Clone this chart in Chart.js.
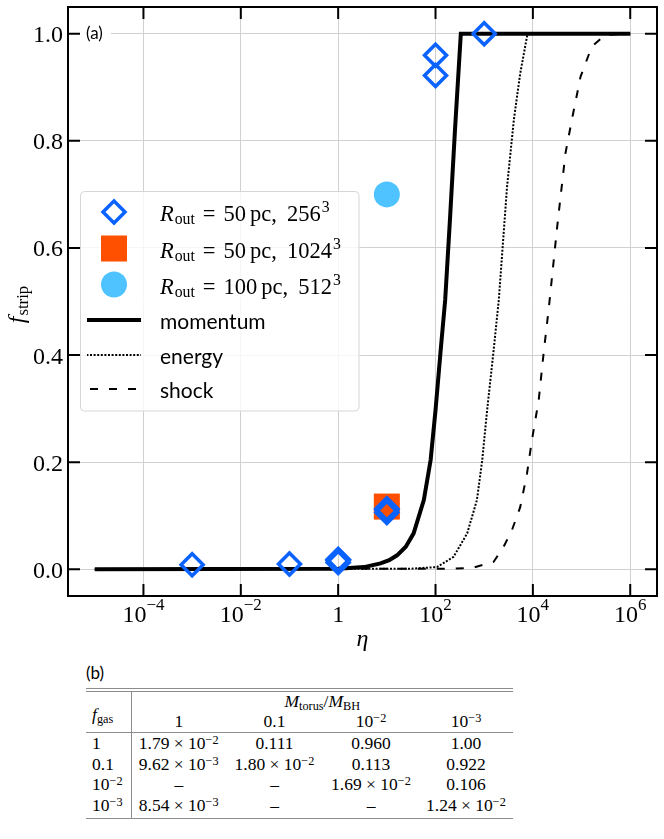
<!DOCTYPE html>
<html>
<head>
<meta charset="utf-8">
<script src="https://cdn.jsdelivr.net/npm/chart.js@4.4.0/dist/chart.umd.min.js"></script>
<style>
    html, body { margin: 0; padding: 0; background: #fff; }
    body { width: 664px; height: 839px; position: relative; overflow: hidden; }
    #chartBox { position: absolute; left: 0; top: 0; width: 664px; height: 655px; }
    #panelB { position: absolute; left: 86px; top: 662px; font-family: Lato, sans-serif; font-size: 17px; line-height: 22px; }
    #stripTable { position: absolute; left: 86px; top: 688px; width: 427px; table-layout: fixed;
        border-collapse: collapse; font-family: "Liberation Serif", serif; font-size: 17.5px; color: #000; }
    #stripTable td { padding: 0; text-align: center; vertical-align: top; white-space: nowrap; line-height: 20.5px; height: 20.5px; }
    #stripTable tr.top td { border-top: 4px double #8c8c8c; height: 19px; line-height: 19px; }
    #stripTable tr.cols td { height: 21px; line-height: 21px; border-bottom: 1px solid #8c8c8c; }
    #stripTable td.rowlab { text-align: left; padding-left: 6px; border-right: 1px solid #8c8c8c; }
    #stripTable td.fgas { vertical-align: middle; padding-top: 5px; border-bottom: 1px solid #8c8c8c; }
    #stripTable tr.last td { border-bottom: 1px solid #8c8c8c; height: 23px; }
    sup, sub { font-size: 0.7em; line-height: 0; }
    sup { vertical-align: 0.45em; }
    sub { vertical-align: -0.25em; }
</style>
</head>
<body>
<div id="chartBox"><canvas id="stripChart"></canvas></div>
<div id="panelB">(b)</div>
<table id="stripTable"></table>

<script>
// panel (a): model curves (eta, f_strip)
const momentumEta = [1e-5, 1, 3.39, 7.41, 11.2, 16.2, 24.5, 35.5, 57.5, 79.4, 100, 126, 158, 200, 251, 316, 331, 1e6];
const momentumF   = [0, 0.001, 0.004, 0.011, 0.017, 0.026, 0.042, 0.067, 0.129, 0.204, 0.297, 0.403, 0.503, 0.66, 0.82, 0.97, 1.0, 1.0];

const energyEta = [1e-5, 31.6, 107, 234, 447, 708, 912, 1148, 1567, 1995, 2951, 4074, 5495, 7586, 7943, 1e6];
const energyF   = [0, 0.001, 0.004, 0.023, 0.067, 0.129, 0.204, 0.297, 0.41, 0.503, 0.715, 0.84, 0.926, 0.995, 1.0, 1.0];

const shockEta = [1e-5, 234, 603, 1567, 2512, 3715, 5495, 7586, 9550, 13183, 16596, 21380, 31623, 46774, 63096, 95499, 162181, 309030, 1e6];
const shockF   = [0, 0.001, 0.003, 0.014, 0.042, 0.073, 0.116, 0.179, 0.241, 0.316, 0.403, 0.49, 0.64, 0.777, 0.839, 0.92, 0.976, 0.998, 1.0];

// simulation runs
const eta256   = [1e-3, 0.1, 1, 1, 1, 1, 10, 10, 10, 100, 100, 1000];
const fStrip256 = [0.00854, 0.00962, 0.0179, 0.0180, 0.0169, 0.0124, 0.111, 0.113, 0.106, 0.960, 0.922, 1.00];
const eta1024   = [10];
const fStrip1024 = [0.117];
const eta512    = [10];
const fStrip512  = [0.70];

const xTickValues = [1e-4, 1e-2, 1, 1e2, 1e4, 1e6];
const yTickValues = [0, 0.2, 0.4, 0.6, 0.8, 1.0];

// panel (b)
const torusRatioLabels = ['1', '0.1', '10<sup>−2</sup>', '10<sup>−3</sup>'];
const gasFractionLabels = ['1', '0.1', '10<sup>−2</sup>', '10<sup>−3</sup>'];
const stripTable = [
    [1.79e-2, 0.111, 0.960, 1.00],
    [9.62e-3, 1.80e-2, 0.113, 0.922],
    [null, null, 1.69e-2, 0.106],
    [8.54e-3, null, null, 1.24e-2]
];

const BLUE = '#0a62ff';
const ORANGE = '#ff5000';
const SKY = '#4ec3ff';
const SERIF = '"Liberation Serif", serif';
const SANS = 'Lato, sans-serif';

const toPoints = (xs, ys) => xs.map((v, i) => ({x: v, y: ys[i]}));

// text with italic / sub / sup pieces, y is the baseline
function drawRich(ctx, parts, x, y, size) {
    ctx.textAlign = 'left';
    ctx.textBaseline = 'alphabetic';
    parts.forEach(p => {
        if (p.gap) { x += p.gap; return; }
        const small = p.sub || p.sup;
        const fs = small ? size * 0.7 : size;
        ctx.font = (p.it ? 'italic ' : '') + fs + 'px ' + SERIF;
        const dy = p.sub ? size * 0.15 : (p.sup ? -size * 0.4 : 0);
        ctx.fillText(p.t, x, y + dy);
        x += ctx.measureText(p.t).width;
    });
    return x;
}

function richWidth(ctx, parts, size) {
    let w = 0;
    parts.forEach(p => {
        if (p.gap) { w += p.gap; return; }
        const fs = (p.sub || p.sup) ? size * 0.7 : size;
        ctx.font = (p.it ? 'italic ' : '') + fs + 'px ' + SERIF;
        w += ctx.measureText(p.t).width;
    });
    return w;
}

const routLabel = (r, n) => [
    {t: 'R', it: true}, {gap: 1}, {t: 'out', sub: true}, {gap: 8}, {t: '='}, {gap: 8},
    {t: r}, {gap: 4}, {t: 'pc,'}, {gap: 10}, {t: n}, {gap: 1}, {t: '3', sup: true}
];

const legendRows = [
    {kind: 'diamond', label: routLabel('50', '256')},
    {kind: 'square', label: routLabel('50', '1024')},
    {kind: 'circle', label: routLabel('100', '512')},
    {kind: 'line', width: 4, dash: [], text: 'momentum'},
    {kind: 'line', width: 2, dash: [2, 1.6], text: 'energy'},
    {kind: 'line', width: 2, dash: [8, 11], text: 'shock'}
];
const legendRowY = [212, 248.5, 284.5, 320, 355, 389];

const decorations = {
    id: 'decorations',
    afterDatasetsDraw(chart) {
        const {ctx, chartArea: a, scales: {x, y}} = chart;
        ctx.save();
        ctx.fillStyle = '#000';
        ctx.strokeStyle = '#000';

        // frame and inward ticks on all four sides
        ctx.lineWidth = 2;
        ctx.strokeRect(a.left, a.top, a.right - a.left, a.bottom - a.top);
        ctx.beginPath();
        x.ticks.forEach(t => {
            const px = x.getPixelForValue(t.value);
            ctx.moveTo(px, a.bottom); ctx.lineTo(px, a.bottom - 12);
            ctx.moveTo(px, a.top); ctx.lineTo(px, a.top + 12);
        });
        y.ticks.forEach(t => {
            const py = y.getPixelForValue(t.value);
            ctx.moveTo(a.left, py); ctx.lineTo(a.left + 12, py);
            ctx.moveTo(a.right, py); ctx.lineTo(a.right - 12, py);
        });
        ctx.stroke();

        // y tick labels
        ctx.font = '24px ' + SERIF;
        ctx.textAlign = 'right';
        ctx.textBaseline = 'alphabetic';
        y.ticks.forEach(t => {
            ctx.fillText(t.value.toFixed(1), a.left - 5, y.getPixelForValue(t.value) + 8.5);
        });

        // x tick labels as powers of ten
        const base = a.bottom + 25.5;
        x.ticks.forEach(t => {
            const px = x.getPixelForValue(t.value);
            const e = Math.round(Math.log10(t.value));
            ctx.textBaseline = 'alphabetic';
            ctx.font = '24px ' + SERIF;
            if (e === 0) {
                ctx.textAlign = 'center';
                ctx.fillText('1', px, base);
                return;
            }
            const sup = e < 0 ? '−' + (-e) : String(e);
            const w1 = ctx.measureText('10').width;
            ctx.font = '17px ' + SERIF;
            const w2 = ctx.measureText(sup).width;
            const sx = px - (w1 + w2) / 2;
            ctx.textAlign = 'left';
            ctx.font = '24px ' + SERIF;
            ctx.fillText('10', sx, base);
            ctx.font = '17px ' + SERIF;
            ctx.fillText(sup, sx + w1, base - 12);
        });

        // axis titles
        ctx.font = 'italic 24px ' + SERIF;
        ctx.textAlign = 'center';
        ctx.fillText('η', (a.left + a.right) / 2, a.bottom + 50);

        const yTitle = [{t: 'f', it: true}, {gap: 1}, {t: 'strip', sub: true}];
        const yw = richWidth(ctx, yTitle, 24);
        ctx.save();
        ctx.translate(24, (a.top + a.bottom) / 2 + 3);
        ctx.rotate(-Math.PI / 2);
        drawRich(ctx, yTitle, -yw / 2, 0, 24);
        ctx.restore();

        // panel tag
        ctx.fillStyle = '#fff';
        ctx.fillRect(a.left + 12, y.getPixelForValue(1) - 10, 31, 20);
        ctx.fillStyle = '#000';
        ctx.font = '17px ' + SANS;
        ctx.textAlign = 'left';
        ctx.textBaseline = 'middle';
        ctx.fillText('(a)', a.left + 18, y.getPixelForValue(1));

        // legend box
        const bx = 80.5, by = 191.5, bw = 278.5, bh = 219.5, r = 4;
        ctx.beginPath();
        ctx.moveTo(bx + r, by);
        ctx.arcTo(bx + bw, by, bx + bw, by + bh, r);
        ctx.arcTo(bx + bw, by + bh, bx, by + bh, r);
        ctx.arcTo(bx, by + bh, bx, by, r);
        ctx.arcTo(bx, by, bx + bw, by, r);
        ctx.closePath();
        ctx.fillStyle = 'rgba(255,255,255,0.8)';
        ctx.fill();
        ctx.strokeStyle = '#d6d6d6';
        ctx.lineWidth = 1;
        ctx.stroke();

        legendRows.forEach((row, i) => {
            const cy = legendRowY[i];
            const cx = 114;
            ctx.setLineDash([]);
            if (row.kind === 'diamond') {
                const d = 11;
                ctx.beginPath();
                ctx.moveTo(cx, cy - d); ctx.lineTo(cx + d, cy);
                ctx.lineTo(cx, cy + d); ctx.lineTo(cx - d, cy);
                ctx.closePath();
                ctx.strokeStyle = BLUE;
                ctx.lineWidth = 3.5;
                ctx.lineJoin = 'miter';
                ctx.stroke();
            } else if (row.kind === 'square') {
                ctx.fillStyle = ORANGE;
                ctx.fillRect(cx - 13, cy - 13, 26, 26);
            } else if (row.kind === 'circle') {
                ctx.fillStyle = SKY;
                ctx.beginPath();
                ctx.arc(cx, cy, 13, 0, Math.PI * 2);
                ctx.fill();
            } else {
                ctx.strokeStyle = '#000';
                ctx.lineWidth = row.width;
                ctx.setLineDash(row.dash);
                ctx.lineDashOffset = row.dash.length ? -3 : 0;
                ctx.beginPath();
                ctx.moveTo(87, cy); ctx.lineTo(141, cy);
                ctx.stroke();
                ctx.setLineDash([]);
            }
            ctx.fillStyle = '#000';
            if (row.label) {
                drawRich(ctx, row.label, 160, cy + 9, 22.5);
            } else {
                ctx.font = '21px ' + SANS;
                ctx.textAlign = 'left';
                ctx.textBaseline = 'alphabetic';
                ctx.fillText(row.text, 160, cy + 9);
            }
        });
        ctx.restore();
    }
};

new Chart(document.getElementById('stripChart'), {
    type: 'scatter',
    data: {
        datasets: [
            {
                label: 'R_out = 50 pc, 256^3',
                data: toPoints(eta256, fStrip256),
                pointStyle: 'rectRot',
                pointRadius: 11,
                pointBorderWidth: 3.5,
                pointBorderColor: BLUE,
                pointBackgroundColor: 'rgba(0,0,0,0)',
                order: 0
            },
            {
                label: 'R_out = 100 pc, 512^3',
                data: toPoints(eta512, fStrip512),
                pointStyle: 'circle',
                pointRadius: 13,
                pointBorderWidth: 0,
                pointBackgroundColor: SKY,
                order: 1
            },
            {
                label: 'R_out = 50 pc, 1024^3',
                data: toPoints(eta1024, fStrip1024),
                pointStyle: 'rect',
                pointRadius: 18.4,
                pointBorderWidth: 0,
                pointBackgroundColor: ORANGE,
                order: 2
            },
            {
                label: 'momentum',
                data: toPoints(momentumEta, momentumF),
                showLine: true,
                borderColor: '#000',
                borderWidth: 4,
                borderJoinStyle: 'miter',
                pointRadius: 0,
                order: 3
            },
            {
                label: 'energy',
                data: toPoints(energyEta, energyF),
                showLine: true,
                borderColor: '#000',
                borderWidth: 2,
                borderDash: [2, 1.6],
                pointRadius: 0,
                order: 4
            },
            {
                label: 'shock',
                data: toPoints(shockEta, shockF),
                showLine: true,
                borderColor: '#000',
                borderWidth: 2,
                borderDash: [8, 11],
                pointRadius: 0,
                order: 5
            }
        ]
    },
    options: {
        responsive: true,
        maintainAspectRatio: false,
        animation: false,
        layout: { autoPadding: false, padding: { top: 7, right: 7, left: 0, bottom: 0 } },
        plugins: { legend: { display: false }, tooltip: { enabled: false } },
        scales: {
            x: {
                type: 'logarithmic',
                min: 2.818e-6,
                max: 3.548e6,
                border: { display: false },
                grid: { color: '#d0d0d0', lineWidth: 1, drawTicks: false },
                ticks: { display: false },
                afterBuildTicks: s => { s.ticks = xTickValues.map(v => ({value: v})); },
                afterFit: s => { s.height = 59; }
            },
            y: {
                type: 'linear',
                min: -0.05,
                max: 1.05,
                border: { display: false },
                grid: { color: '#d0d0d0', lineWidth: 1, drawTicks: false },
                ticks: { display: false },
                afterBuildTicks: s => { s.ticks = yTickValues.map(v => ({value: v})); },
                afterFit: s => { s.width = 68; }
            }
        }
    },
    plugins: [decorations]
});

// panel (b) table
function fmtValue(v) {
    if (v === null) return '–';
    if (v >= 0.1) return v.toPrecision(3);
    const [m, e] = v.toExponential(2).split('e');
    return m + ' × 10<sup>−' + Math.abs(+e) + '</sup>';
}

let html = '<colgroup><col style="width:45px"><col style="width:95px"><col style="width:97px">' +
           '<col style="width:96px"><col style="width:94px"></colgroup>';
html += '<tr class="top"><td rowspan="2" class="rowlab fgas"><i>f</i><sub>gas</sub></td>' +
        '<td colspan="4"><i>M</i><sub>torus</sub>/<i>M</i><sub>BH</sub></td></tr>';
html += '<tr class="cols">' + torusRatioLabels.map(l => '<td>' + l + '</td>').join('') + '</tr>';
stripTable.forEach((row, i) => {
    const cls = i === stripTable.length - 1 ? ' class="last"' : '';
    html += '<tr' + cls + '><td class="rowlab">' + gasFractionLabels[i] + '</td>' +
            row.map(v => '<td>' + fmtValue(v) + '</td>').join('') + '</tr>';
});
document.getElementById('stripTable').innerHTML = html;
</script>
</body>
</html>
